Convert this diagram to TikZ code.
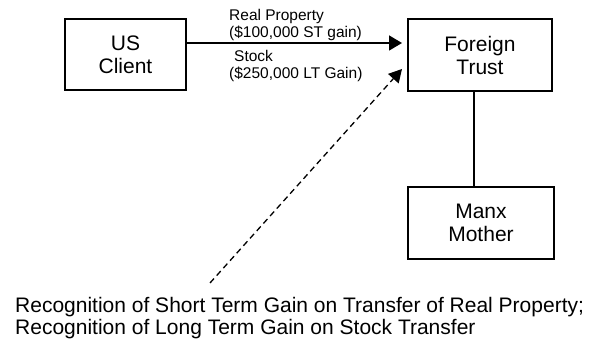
\documentclass[tikz,border=0pt]{standalone}
\usepackage{fontspec}
\setmainfont{Liberation Sans}
\usetikzlibrary{arrows.meta}
\begin{document}
\begin{tikzpicture}[x=1pt,y=1pt,
  box/.style={draw, line width=1.5pt, align=center, inner sep=0pt,
    font=\fontsize{21}{23}\selectfont},
  lbl/.style={align=left, anchor=west, inner sep=0pt,
    font=\fontsize{15.5}{17}\selectfont},
  arr/.style={line width=1.5pt, -{Triangle[length=13pt,width=15pt]}},
  darr/.style={line width=1.3pt, dash pattern=on 6pt off 4pt, -{Triangle[length=13pt,width=14pt]}}]
\useasboundingbox (0,0) rectangle (595,343);
\node[box, minimum width=121pt, minimum height=71pt] (uc) at (125.5,288.5) {US\\Client};
\node[box, minimum width=144pt, minimum height=72pt] (ft) at (480,288) {Foreign\\Trust};
\node[box, minimum width=146pt, minimum height=72pt] (mm) at (481,120) {Manx\\Mother};
\coordinate (y1) at (0,300);
\coordinate (y2) at (0,274);
\coordinate (tx) at (402,0);
\coordinate (vx) at (474,0);
\coordinate (ds) at (210,60);
\draw[arr] (uc.east |- y1) -- (tx |- y1);
\draw[darr] (ds) -- (tx |- y2);
\draw[line width=1.5pt] (ft.south -| vx) -- (mm.north -| vx);
\node[lbl] (l1) at (229,318.5) {Real Property\\(\$100,000 ST gain)};
\node[lbl] (l2) at (229,277.5) {\hspace{5pt}Stock\\(\$250,000 LT Gain)};
\node[align=left, anchor=west, inner sep=0pt, font=\fontsize{21}{22}\selectfont] (bt) at (15,25)
  {Recognition of Short Term Gain on Transfer of Real Property;\\Recognition of Long Term Gain on Stock Transfer};
\end{tikzpicture}
\end{document}
